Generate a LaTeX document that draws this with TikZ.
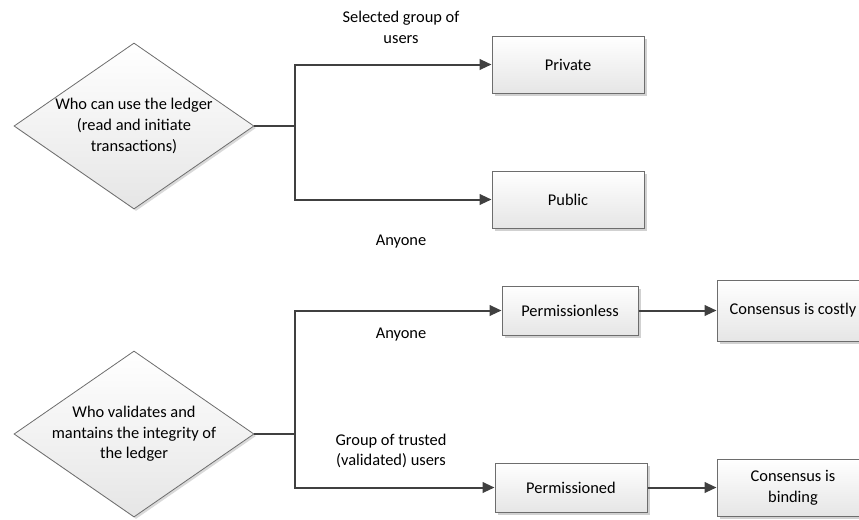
\documentclass[tikz,border=0pt]{standalone}
\usepackage{fontspec}
\setmainfont{Carlito}
\usepackage{tikz}
\usetikzlibrary{arrows.meta,shapes.geometric,shadows}
\definecolor{linegray}{HTML}{404040}
\definecolor{boxgray}{HTML}{6D6D6D}
\tikzset{
    txt/.style = {
        font=\fontsize{12.3pt}{15.5pt}\selectfont,
        align=center
    },
    block/.style = {
        txt,
        draw=boxgray,
        shape=rectangle,
        top color=white,
        bottom color=black!10,
        line width=0.75pt,
        drop shadow={shadow xshift=2pt, shadow yshift=-2pt, fill=black!18, opacity=1},
        minimum width=114pt,
        minimum height=42.75pt
    },
    decision/.style = {
        txt,
        draw=boxgray,
        shape=diamond,
        aspect=1.45,
        inner sep=-3pt,
        top color=white,
        bottom color=black!10,
        line width=0.6pt,
        drop shadow={shadow xshift=1.5pt, shadow yshift=-1.5pt, fill=black!15, opacity=1},
        minimum width=180pt,
        minimum height=124.5pt
    },
    empty/.style = {
        txt,
        inner sep=0pt
    },
    wire/.style = {
        draw=linegray,
        line width=1.5pt
    },
    >={Triangle[length=9pt,width=8pt]},
}
\begin{document}
\begin{tikzpicture}[x=0.75pt, y=-0.75pt]
    \useasboundingbox (0,0) rectangle (859,519);

    % who can use the ledger
    \node[decision] (use) at (134,126) {Who can use the ledger\\(read and initiate\\transactions)};
    \coordinate (usesplit) at (295,126);
    \node[block] (private) at (568,64.5) {Private};
    \node[block] (public) at (568,199.5) {Public};
    \node[empty] (selected) at (401,27.5) {Selected group of\\users};
    \node[empty] (anyoneuse) at (401,242) {Anyone};

    \path[wire, -] (use) -- (usesplit);
    \path[wire, ->] (usesplit) |- (private);
    \path[wire, ->] (usesplit) |- (public);

    % who validates the ledger
    \node[decision] (valid) at (134,434) {Who validates and\\mantains the integrity of\\the ledger};
    \coordinate (validsplit) at (295,434);
    \node[block, minimum width=102pt, minimum height=36.75pt] (permless) at (570,310.5) {Permissionless};
    \node[block, minimum height=45.75pt] (costly) at (793,310.5) {Consensus is costly};
    \node[block, minimum height=36.75pt] (permed) at (571,487.5) {Permissioned};
    \node[block] (binding) at (793,487.5) {Consensus is\\binding};
    \node[empty] (anyonevalid) at (401,335) {Anyone};
    \node[empty] (trusted) at (391,451) {Group of trusted\\(validated) users};

    \path[wire, -] (valid) -- (validsplit);
    \path[wire, ->] (validsplit) |- (permless);
    \path[wire, ->] (validsplit) |- (permed);
    \path[wire, ->] (permless) -- (costly);
    \path[wire, ->] (permed) -- (binding);
\end{tikzpicture}
\end{document}
